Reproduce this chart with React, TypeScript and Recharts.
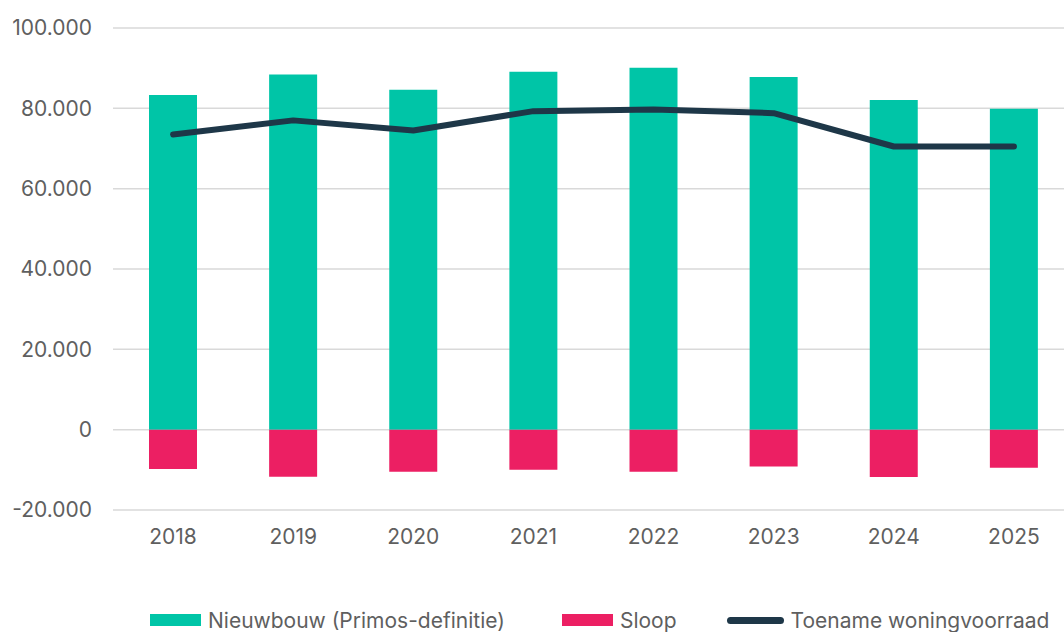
import {
  ComposedChart,
  Bar,
  Line,
  XAxis,
  YAxis,
  CartesianGrid,
  Legend,
} from 'recharts';

const years = ['2018', '2019', '2020', '2021', '2022', '2023', '2024', '2025'];
const nieuwbouw = [83300, 88400, 84600, 89100, 90100, 87800, 82100, 79900];
const sloop = [-9800, -11700, -10500, -10000, -10500, -9200, -11800, -9500];
const toename = [73500, 77000, 74500, 79300, 79700, 78800, 70500, 70500];
const yTicks = [-20000, 0, 20000, 40000, 60000, 80000, 100000];

const GREEN = '#00C5A7';
const PINK = '#EC1F63';
const NAVY = '#1E3748';
const TEXT = '#5f5f5f';
const FONT = 'Inter, "Noto Sans", sans-serif';

const data = years.map((year, i) => ({
  year,
  nieuwbouw: nieuwbouw[i],
  sloop: sloop[i],
  toename: toename[i],
}));

// 100000 -> "100.000"
function formatNL(v: number) {
  const s = Math.abs(v)
    .toString()
    .replace(/\B(?=(\d{3})+(?!\d))/g, '.');
  return v < 0 ? '-' + s : s;
}

function ChartLegend() {
  const item = (label: string, swatch: JSX.Element, gap: number) => (
    <div style={{ display: 'flex', alignItems: 'center', marginRight: gap }}>
      {swatch}
      <span style={{ marginLeft: 7 }}>{label}</span>
    </div>
  );
  return (
    <div
      style={{
        display: 'flex',
        alignItems: 'center',
        paddingLeft: 150,
        height: 24,
        fontFamily: FONT,
        fontSize: 21,
        color: TEXT,
        whiteSpace: 'nowrap',
      }}
    >
      {item(
        'Nieuwbouw (Primos-definitie)',
        <span style={{ width: 51, height: 12, background: GREEN, display: 'inline-block' }} />,
        57
      )}
      {item(
        'Sloop',
        <span style={{ width: 51, height: 12, background: PINK, display: 'inline-block' }} />,
        50
      )}
      {item(
        'Toename woningvoorraad',
        <span
          style={{
            width: 57,
            height: 7,
            borderRadius: 4,
            background: NAVY,
            display: 'inline-block',
          }}
        />,
        0
      )}
    </div>
  );
}

export default function App() {
  return (
    <div
      style={{
        position: 'fixed',
        top: 0,
        left: 0,
        width: 1064,
        height: 632,
        overflow: 'hidden',
        background: '#fff',
      }}
    >
      <ComposedChart
        width={1080}
        height={632}
        data={data}
        stackOffset='sign'
        margin={{ top: 28, right: 6, left: 0, bottom: 0 }}
      >
        <CartesianGrid vertical={false} stroke='#d9d9d9' strokeWidth={1.5} />
        <XAxis
          dataKey='year'
          axisLine={false}
          tickLine={false}
          tickSize={0}
          tickMargin={19}
          height={98}
          tick={{ fill: TEXT, fontSize: 21, fontFamily: FONT }}
        />
        <YAxis
          domain={[-20000, 100000]}
          ticks={yTicks}
          width={113}
          axisLine={false}
          tickLine={false}
          tickSize={0}
          tickMargin={21}
          tickFormatter={formatNL}
          tick={{ fill: TEXT, fontSize: 21, fontFamily: FONT }}
        />
        <Legend verticalAlign='bottom' height={24} content={() => <ChartLegend />} />
        <Bar
          dataKey='nieuwbouw'
          stackId='a'
          fill={GREEN}
          barSize={48}
          isAnimationActive={false}
        />
        <Bar
          dataKey='sloop'
          stackId='a'
          fill={PINK}
          barSize={48}
          isAnimationActive={false}
        />
        <Line
          type='linear'
          dataKey='toename'
          stroke={NAVY}
          strokeWidth={6}
          strokeLinecap='round'
          strokeLinejoin='round'
          dot={false}
          activeDot={false}
          isAnimationActive={false}
        />
      </ComposedChart>
    </div>
  );
}
